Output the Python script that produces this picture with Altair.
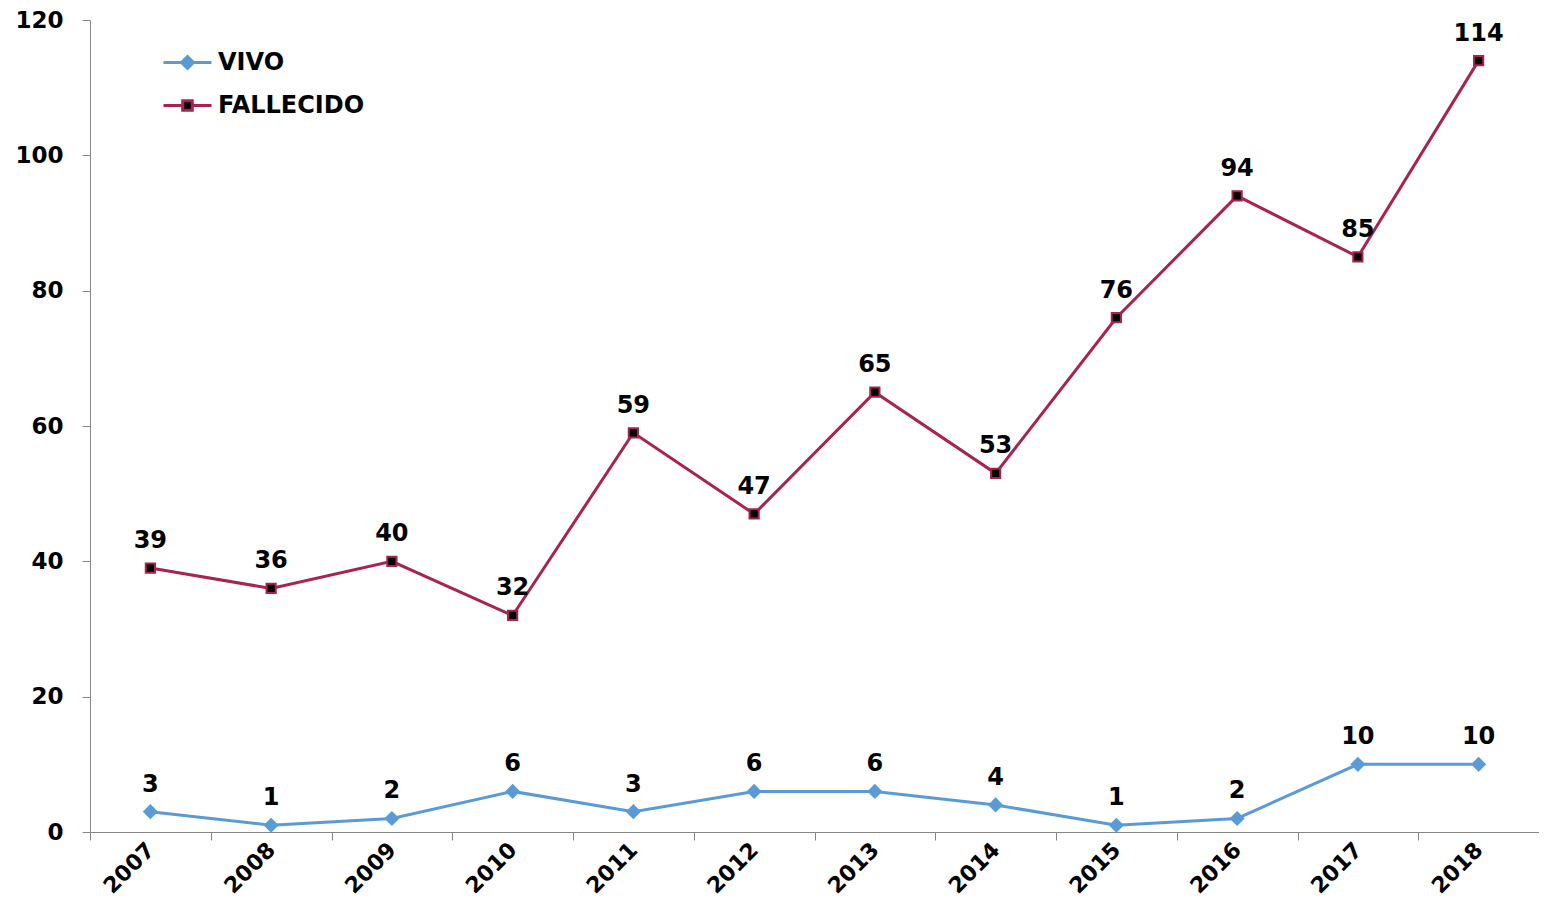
import altair as alt
import pandas as pd

years = ["2007", "2008", "2009", "2010", "2011", "2012", "2013", "2014", "2015", "2016", "2017", "2018"]
vivo = [3, 1, 2, 6, 3, 6, 6, 4, 1, 2, 10, 10]
fallecido = [39, 36, 40, 32, 59, 47, 65, 53, 76, 94, 85, 114]
series = ["VIVO", "FALLECIDO"]
y_ticks = [0, 20, 40, 60, 80, 100, 120]

BLUE = "#5B9BD5"
CRIMSON = "#A8234E"
FONT = "DejaVu Sans"

df_v = pd.DataFrame({"year": years, "value": vivo, "serie": series[0]})
df_f = pd.DataFrame({"year": years, "value": fallecido, "serie": series[1]})

x = alt.X(
    "year:O",
    sort=years,
    scale=alt.Scale(type="band", paddingInner=0, paddingOuter=0),
    axis=alt.Axis(
        title=None, tickBand="extent", labelAngle=-45, labelFont=FONT,
        labelFontSize=22, labelFontWeight="bold", labelColor="black",
        domainColor="#868686", tickColor="#868686", tickSize=8, labelPadding=6,
        grid=False, labelAlign="right", labelBaseline="middle",
    ),
)
y = alt.Y(
    "value:Q",
    scale=alt.Scale(domain=[0, 120], nice=False, zero=True),
    axis=alt.Axis(
        title=None, values=y_ticks, labelFont=FONT, labelFontSize=23,
        labelFontWeight="bold", labelColor="black", domainColor="#868686",
        tickColor="#868686", tickSize=8, labelPadding=19, grid=False,
    ),
)

leg_common = dict(
    orient="none", title=None, labelFont=FONT, labelFontSize=24,
    labelFontWeight="bold", labelColor="black", symbolSize=1600,
    symbolStrokeWidth=3, labelOffset=9, padding=0, legendX=76,
)

path_vivo = ("M-1.2,0H1.2 M0,-0.3L0.3,0L0,0.3L-0.3,0Z "
             "M0,-0.2L0.2,0L0,0.2L-0.2,0Z M0,-0.1L0.1,0L0,0.1L-0.1,0Z")
path_fall = "M-1.2,0H-0.24 M0.24,0H1.2 M-0.24,-0.24H0.24V0.24H-0.24Z"

vivo_line = alt.Chart(df_v).mark_line(strokeWidth=3).encode(
    x=x, y=y,
    stroke=alt.Stroke(
        "serie:N",
        scale=alt.Scale(domain=[series[0]], range=[BLUE]),
        legend=alt.Legend(symbolType=path_vivo, legendY=21, **leg_common),
    ),
)
vivo_pts = alt.Chart(df_v).mark_point(
    shape="diamond", filled=True, size=230, color=BLUE, opacity=1
).encode(x=x, y=y)

fall_line = alt.Chart(df_f).mark_line(strokeWidth=3, color=CRIMSON).encode(x=x, y=y)
fall_pts = alt.Chart(df_f).mark_square(
    size=85, fill="black", strokeWidth=2, opacity=1
).encode(
    x=x, y=y,
    stroke=alt.Stroke(
        "serie:N",
        scale=alt.Scale(domain=[series[1]], range=[CRIMSON]),
        legend=alt.Legend(symbolType=path_fall, legendY=64, **leg_common),
    ),
)

text_style = dict(font=FONT, fontSize=24, fontWeight="bold", color="black",
                  baseline="middle", align="center", dy=-27)
vivo_txt = alt.Chart(df_v).mark_text(**text_style).encode(
    x=x, y=y, text="value:Q")
fall_txt = alt.Chart(df_f).mark_text(**text_style).encode(
    x=x, y=y, text="value:Q")

chart = alt.layer(
    vivo_line, vivo_pts, fall_line, fall_pts, vivo_txt, fall_txt
).resolve_scale(
    stroke="independent"
).properties(
    width=1449, height=812,
    autosize=alt.AutoSizeParams(type="none"),
    padding={"left": 82, "top": 12, "right": 0, "bottom": 71},
).configure_view(stroke=None)

chart.save("out.html", embed_options={"renderer": "svg", "actions": False})
